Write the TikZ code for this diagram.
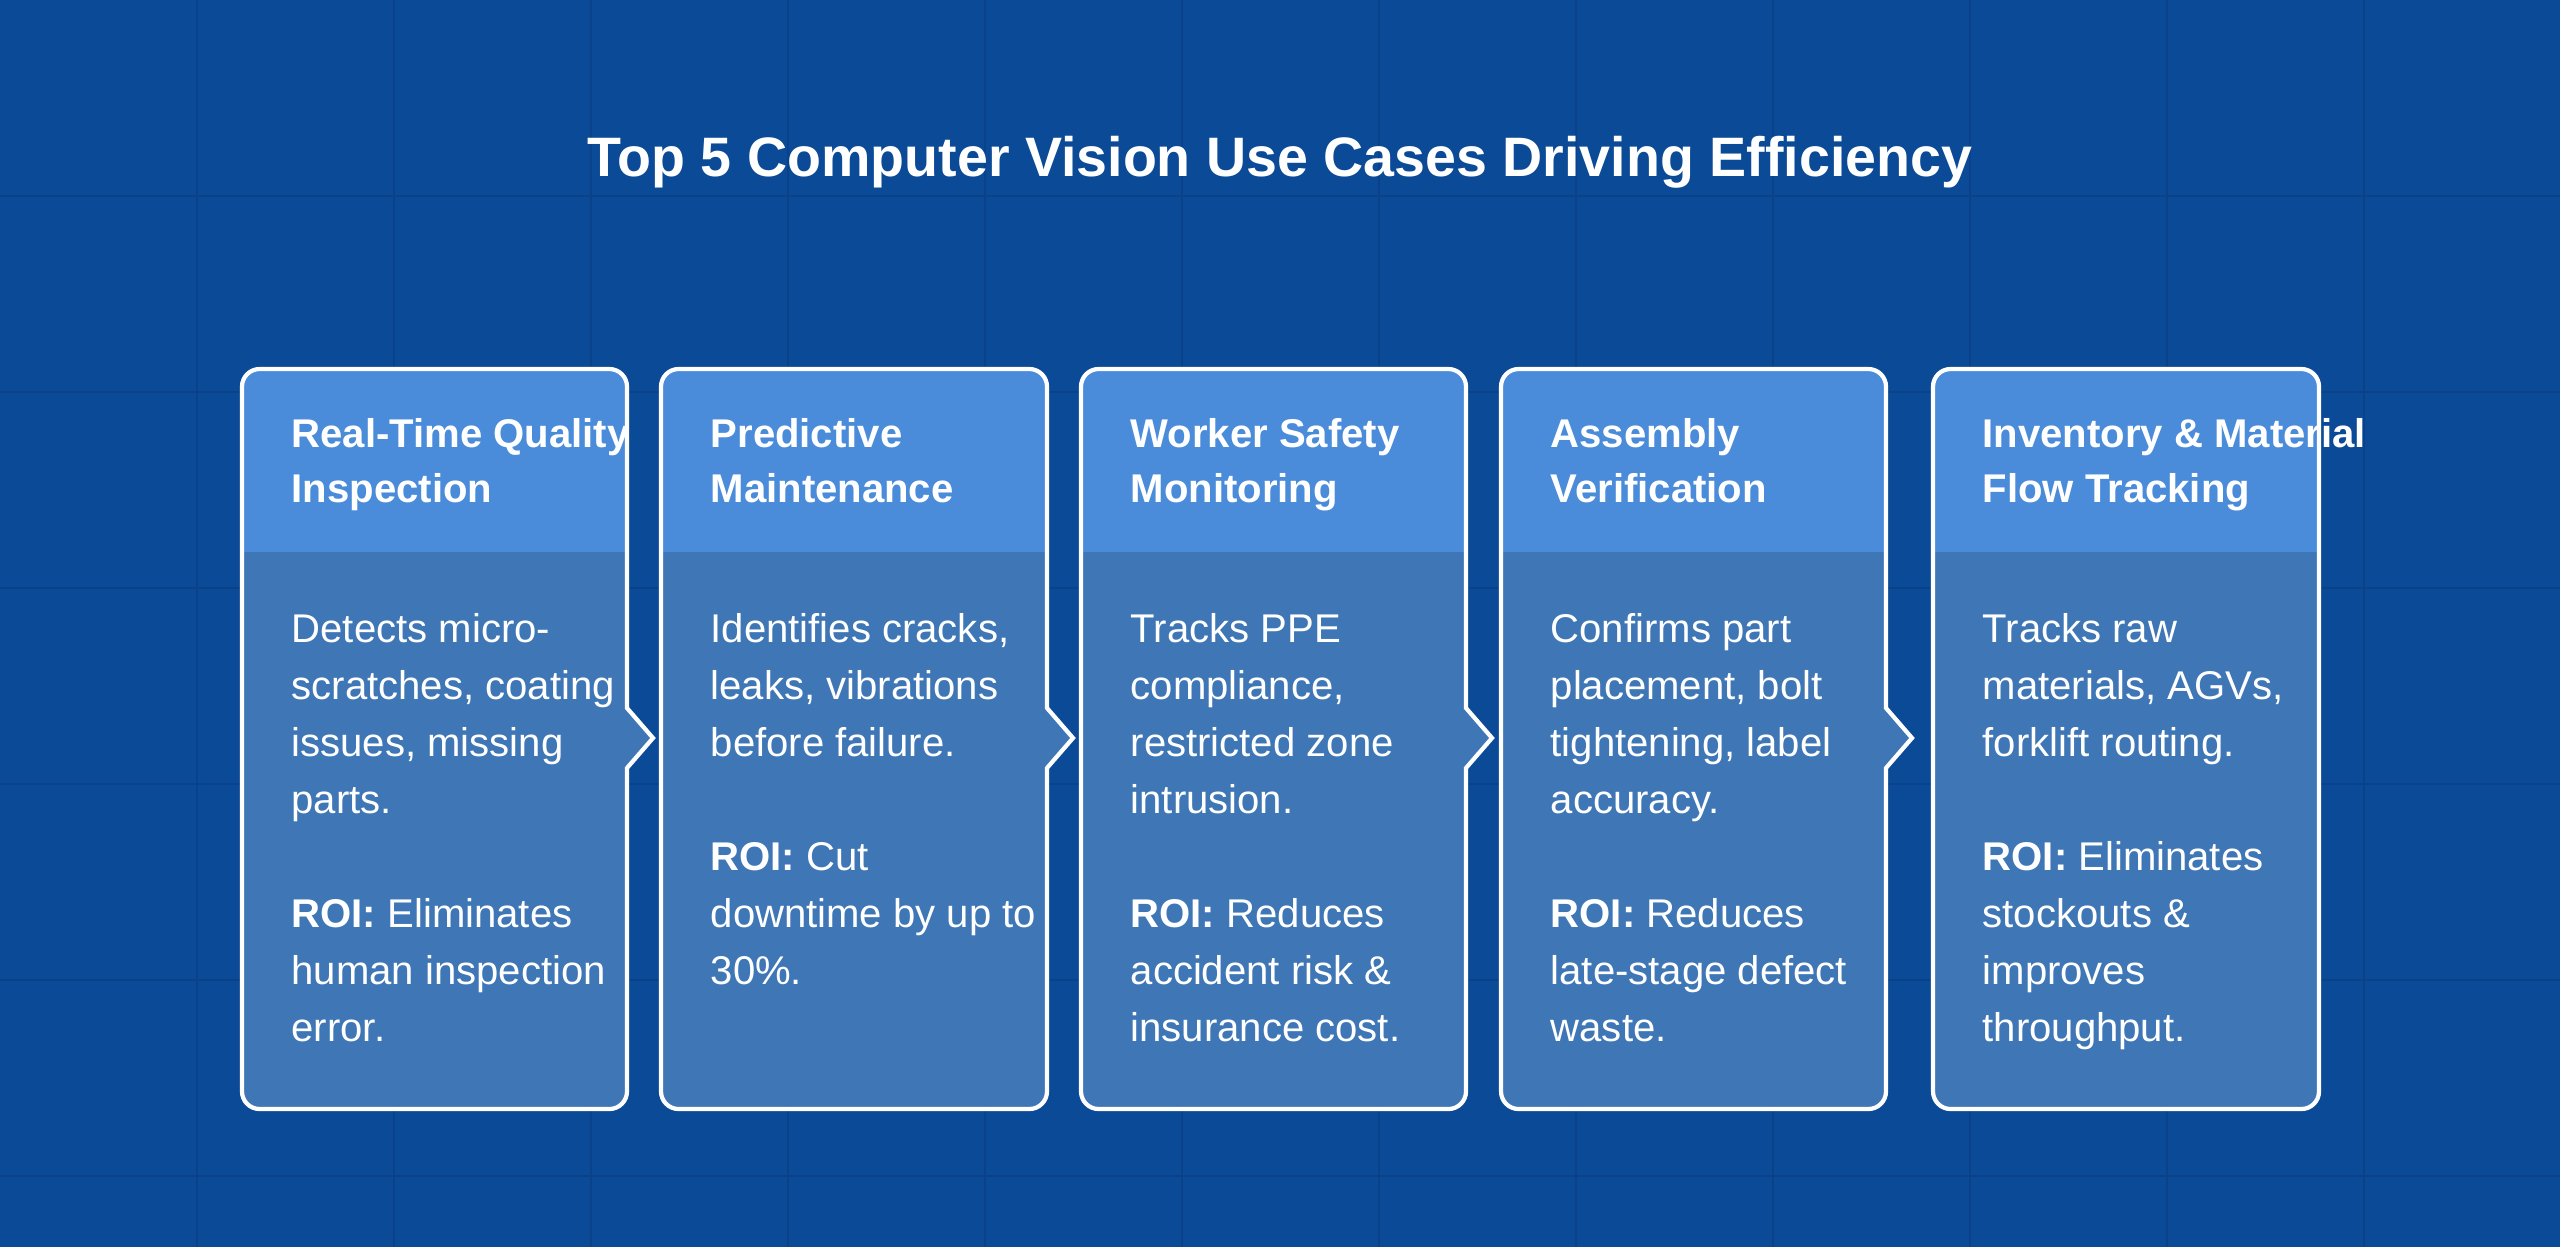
\documentclass[tikz,border=0pt]{standalone}
\usepackage{fontspec}
\setmainfont{Liberation Sans}
\definecolor{bgblue}{HTML}{0B4A96}
\definecolor{gridblue}{HTML}{09428A}
\definecolor{headblue}{HTML}{4A8CDA}
\definecolor{bodyblue}{HTML}{3E76B6}
\tikzset{
  cardtext/.style={anchor=north west, text=white, font=\fontsize{11.4}{16.2}\selectfont,
    align=left, inner sep=0pt},
  headtext/.style={cardtext, font=\fontsize{11.4}{15.6}\selectfont\bfseries},
}
\newcommand{\cardpath}[3]{(#1,369) -- (#2,369) [sharp corners] -- (#2,708) -- (#2+26,738) -- (#2,768) [rounded corners=5] -- (#2,1109) -- (#1,1109) -- cycle}
\begin{document}
\begin{tikzpicture}[x=0.01cm,y=-0.01cm]
\fill[bgblue] (0,0) rectangle (2560,1247);
\useasboundingbox (0,0) rectangle (2560,1247);

% grid
\foreach \g in {1,...,12} {
  \draw[gridblue, line width=0.6pt] (\g*197,0) -- (\g*197,1247);
}
\foreach \g in {1,...,6} {
  \draw[gridblue, line width=0.6pt] (0,\g*196) -- (2560,\g*196);
}

\node (title) at (1280,162) {\fontsize{15.8}{19}\selectfont\bfseries\color{white}Top 5 Computer Vision Use Cases Driving Efficiency};

% cards: left x, right x, tab (1/0)
\foreach \l/\r/\t [count=\i] in {242/627/1, 661/1047/1, 1081/1466/1, 1501/1886/1, 1933/2319/0} {
  \ifnum\t=1
    \fill[bodyblue, rounded corners=5] \cardpath{\l}{\r}{};
  \else
    \fill[bodyblue, rounded corners=5] (\l,369) rectangle (\r,1109);
  \fi
  \fill[headblue, rounded corners=5] (\l,552) -- (\l,369) -- (\r,369) -- (\r,552);
  \fill[headblue] (\l,530) rectangle (\r,552);
  \ifnum\t=1
    \draw[white, line width=1.2pt, rounded corners=5] \cardpath{\l}{\r}{};
  \else
    \draw[white, line width=1.2pt, rounded corners=5] (\l,369) rectangle (\r,1109);
  \fi
  \coordinate (c\i) at (\l+49,418);
  \coordinate (b\i) at (\l+49,613);
}

\node[headtext] (h1) at (c1) {Real-Time Quality\\Inspection};
\node[headtext] (h2) at (c2) {Predictive\\Maintenance};
\node[headtext] (h3) at (c3) {Worker Safety\\Monitoring};
\node[headtext] (h4) at (c4) {Assembly\\Verification};
\node[headtext] (h5) at (c5) {Inventory \& Material\\Flow Tracking};

\node[cardtext] (t1) at (b1) {Detects micro-\\scratches, coating\\issues, missing\\parts.\\[16.2pt]\textbf{ROI:} Eliminates\\human inspection\\error.};
\node[cardtext] (t2) at (b2) {Identifies cracks,\\leaks, vibrations\\before failure.\\[16.2pt]\textbf{ROI:} Cut\\downtime by up to\\30\%.};
\node[cardtext] (t3) at (b3) {Tracks PPE\\compliance,\\restricted zone\\intrusion.\\[16.2pt]\textbf{ROI:} Reduces\\accident risk \&\\insurance cost.};
\node[cardtext] (t4) at (b4) {Confirms part\\placement, bolt\\tightening, label\\accuracy.\\[16.2pt]\textbf{ROI:} Reduces\\late-stage defect\\waste.};
\node[cardtext] (t5) at (b5) {Tracks raw\\materials, AGVs,\\forklift routing.\\[16.2pt]\textbf{ROI:} Eliminates\\stockouts \&\\improves\\throughput.};
\end{tikzpicture}
\end{document}
